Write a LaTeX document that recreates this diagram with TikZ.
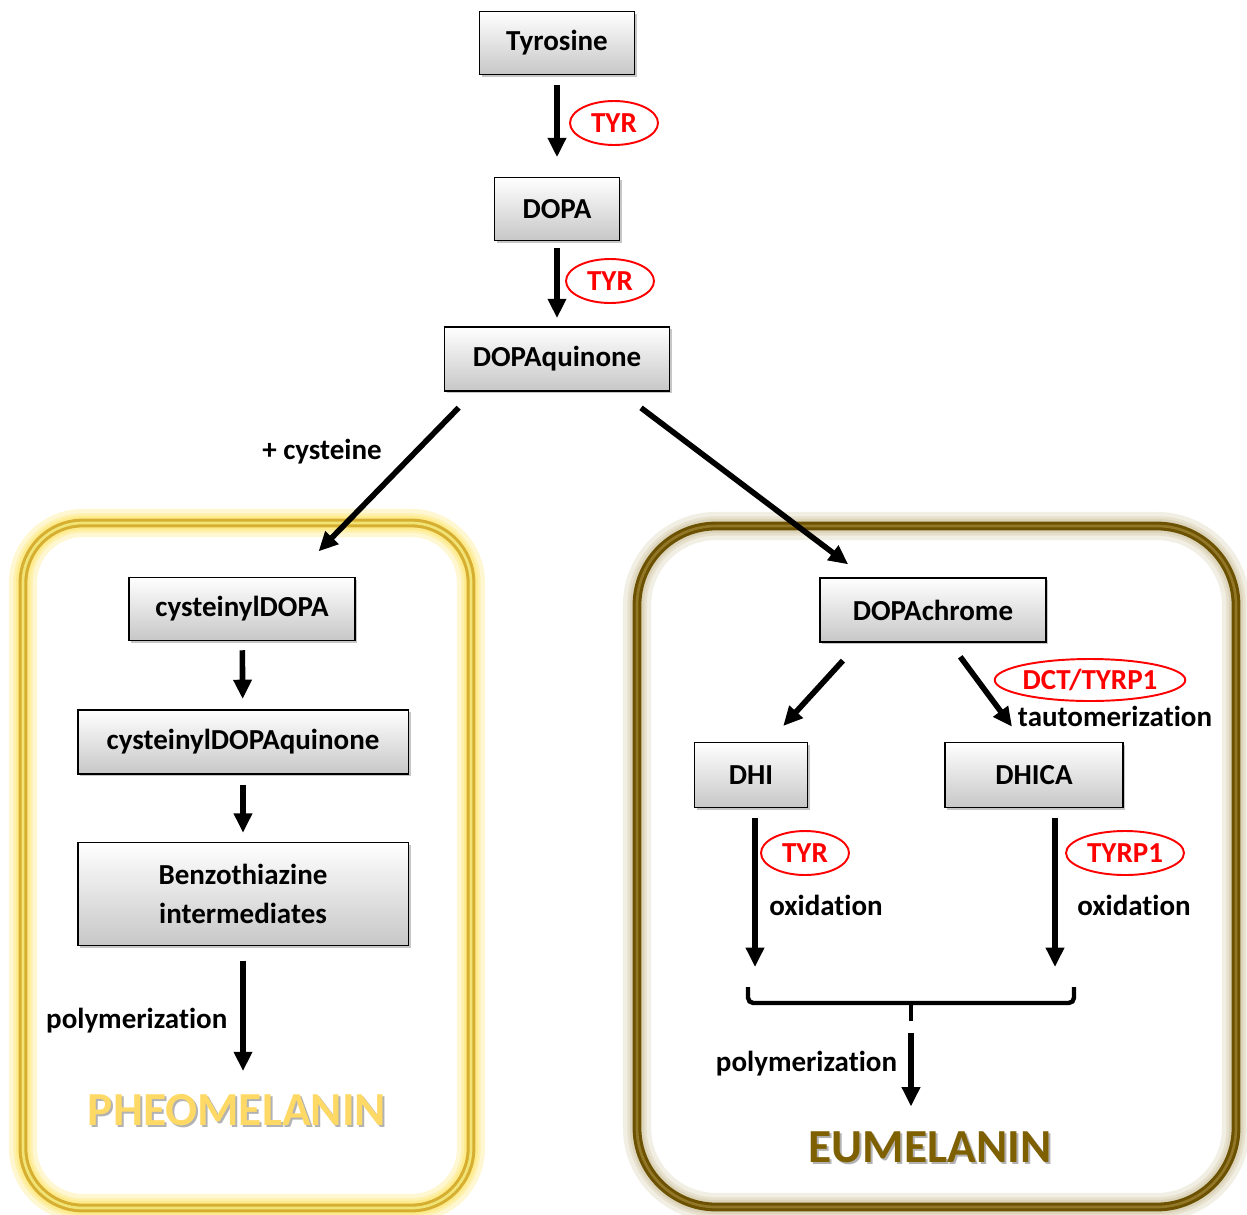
\documentclass[tikz,border=0pt]{standalone}
\usepackage{fontspec}
\setmainfont{Carlito}[Ligatures={NoCommon}]
\usetikzlibrary{arrows.meta,shapes.geometric,shadows}
\definecolor{pheogold}{RGB}{255,217,102}
\definecolor{eubrown}{RGB}{127,96,0}
\definecolor{framegold}{RGB}{214,174,48}
\definecolor{enzred}{RGB}{255,0,0}

\begin{document}
\begin{tikzpicture}[x=0.02cm, y=-0.02cm,
    font=\fontsize{16.5}{22}\selectfont\bfseries,
    chem/.style={draw=black, line width=1.1pt, top color=white, bottom color=black!22,
        drop shadow={shadow xshift=1.2pt, shadow yshift=-1.2pt, opacity=0.45},
        minimum height=1.26cm, align=center},
    enzyme/.style={ellipse, draw=enzred, text=enzred, line width=1.1pt, inner sep=0pt,
        minimum height=0.88cm},
    arr/.style={-{Triangle[width=10pt,length=11pt]}, line width=3.2pt},
    pigment/.style={font=\fontsize{27}{30}\selectfont\bfseries, inner sep=0pt},
    glow/.style={line width=#1, draw opacity=0.18}]
    \useasboundingbox (0,0) rectangle (1247,1214);

    % Pheomelanin frame
    \foreach \w in {16pt,11pt,8pt}
        \draw[glow=\w, yellow!70!orange, rounded corners=34pt] (23,523) rectangle (471,1208);
    \draw[line width=5pt, framegold, rounded corners=34pt] (23,523) rectangle (471,1208);
    \draw[line width=1.5pt, framegold!55!yellow!60!white, rounded corners=34pt] (23,523) rectangle (471,1208);

    % Eumelanin frame
    \foreach \w in {16pt,11pt,8pt}
        \draw[glow=\w, eubrown!60!white, rounded corners=45pt] (637,526) rectangle (1236,1207);
    \draw[line width=5pt, eubrown!85!black, rounded corners=45pt] (637,526) rectangle (1236,1207);
    \draw[line width=1.5pt, eubrown!85!white, rounded corners=45pt] (637,526) rectangle (1236,1207);

    % Common pathway
    \node[chem, minimum width=3.1cm] (tyr) at (557,43) {Tyrosine};
    \node[chem, minimum width=2.5cm] (dopa) at (557,209) {DOPA};
    \node[chem, minimum width=4.5cm, minimum height=1.28cm] (dq) at (557,359) {DOPAquinone};
    \draw[arr, shorten <=5.7pt, shorten >=11pt] (tyr) -- (dopa);
    \draw[arr, shorten <=4pt, shorten >=4.5pt] (dopa) -- (dq);
    \node[enzyme, minimum width=1.76cm] (tyra) at (614,123) {TYR};
    \node[enzyme, minimum width=1.76cm] (tyrb) at (610,281) {TYR};

    % Pheomelanin branch
    \node[chem, minimum width=4.52cm] (cd) at (242,609) {cysteinylDOPA};
    \node[chem, minimum width=6.62cm, minimum height=1.28cm] (cdq) at (243,742) {cysteinylDOPAquinone};
    \node[chem, minimum width=6.62cm, minimum height=2.06cm] (bz) at (243,894) {Benzothiazine\\intermediates};
    \draw[arr, shorten <=12.5pt, shorten >=20pt] ([shift={(-83,0)}]dq.south) -- ([shift={(52,0)}]cd.north);
    \node (cys) at (322,452) {+ cysteine};
    \draw[arr, shorten <=5pt, shorten >=5.7pt] (cd) -- (cdq);
    \draw[arr, shorten <=5.7pt, shorten >=5pt] (cdq) -- (bz);
    \node[pigment, text=black!30] (pheoshade) at (239,1112) {PHEOMELANIN};
    \node[pigment, text=pheogold] (pheo) at (237,1110) {PHEOMELANIN};
    \draw[arr, shorten <=8pt, shorten >=13pt] (bz.south) -- (bz.south |- pheo.north)
        node[midway, left=4pt] (polya) {polymerization};

    % Eumelanin branch
    \node[chem, minimum width=4.52cm, minimum height=1.28cm] (dc) at (933,610) {DOPAchrome};
    \node[chem, minimum width=2.26cm, minimum height=1.3cm] (dhi) at (751,775) {DHI};
    \node[chem, minimum width=3.56cm, minimum height=1.3cm] (dhica) at (1034,775) {DHICA};
    \draw[arr, shorten <=15pt, shorten >=12pt] ([shift={(63,0)}]dq.south) -- ([shift={(-68,0)}]dc.north);
    \draw[arr, shorten <=13.6pt, shorten >=12pt] ([shift={(-74,0)}]dc.south) -- ([shift={(18,0)}]dhi.north);
    \draw[arr, shorten <=9.8pt, shorten >=10.5pt] ([shift={(17,0)}]dc.south) -- ([shift={(-11,0)}]dhica.north);
    \node[enzyme, minimum width=3.64cm, minimum height=0.84cm] (dct) at (1090,680) {DCT/TYRP1};
    \node (taut) at (1115,716) {tautomerization};

    % Oxidation steps
    \coordinate (oxa) at (755,967);
    \coordinate (oxb) at (1055,967);
    \draw[arr, shorten <=5.7pt] (oxa |- dhi.south) -- (oxa);
    \draw[arr, shorten <=5.7pt] (oxb |- dhica.south) -- (oxb);
    \node[enzyme, minimum width=1.76cm] (tyrc) at (805,853) {TYR};
    \node (oxla) at (826,905) {oxidation};
    \node[enzyme, minimum width=2.36cm] (tyrp) at (1125,853) {TYRP1};
    \node (oxlb) at (1134,905) {oxidation};

    % Bracket and polymerization
    \coordinate (brl) at (748,987);
    \coordinate (brr) at (1074,987);
    \coordinate (brm) at (911,1003);
    \draw[line width=2.5pt, rounded corners=3pt] (brl) -- (brl |- brm) -- (brr |- brm) -- (brr);
    \draw[line width=2.5pt] (brm) -- ++(0,18);
    \node[pigment, text=black!30] (eushade) at (932,1149) {EUMELANIN};
    \node[pigment, text=eubrown] (eu) at (930,1147) {EUMELANIN};
    \draw[arr, shorten <=17pt, shorten >=14pt] (brm) -- (brm |- eu.north)
        node[pos=0.47, left=3pt] (polyb) {polymerization};
\end{tikzpicture}
\end{document}
